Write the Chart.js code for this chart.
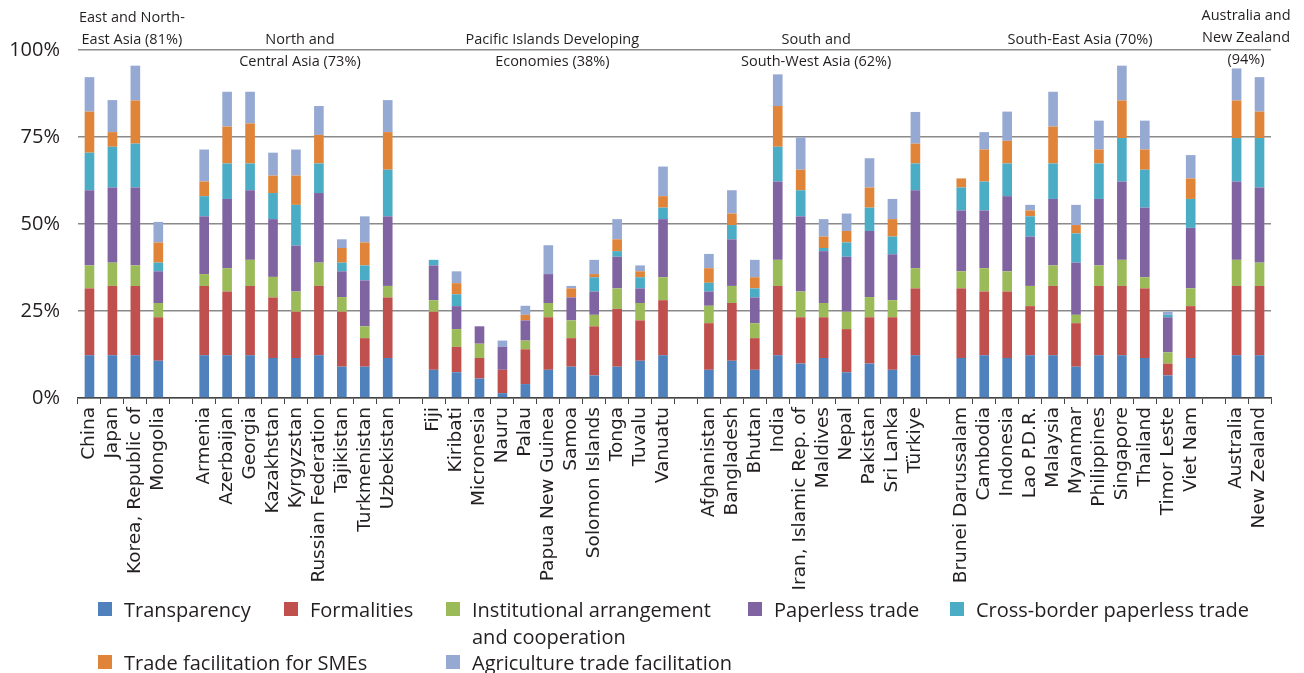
<!DOCTYPE html>
<html>
<head>
<meta charset="utf-8">
<script src="https://cdn.jsdelivr.net/npm/chart.js@4"></script>
<style>
  body { margin: 0; background: #fff; }
  #wrap { position: relative; width: 1304px; height: 673px; }
  .lg { position: absolute; font-family: "Open Sans", sans-serif; font-size: 20px; color: #231f20; line-height: 27px; white-space: nowrap; }
  .lg span.box { position: absolute; left: 0; top: 6px; width: 14px; height: 14px; }
  .lg div.txt { margin-left: 26px; }
</style>
</head>
<body>
<div id="wrap">
  <canvas id="myChart" width="1304" height="673"></canvas>
</div>
<script>
var categories = [
  'China', 'Japan', 'Korea, Republic of', 'Mongolia', '',
  'Armenia', 'Azerbaijan', 'Georgia', 'Kazakhstan', 'Kyrgyzstan', 'Russian Federation', 'Tajikistan', 'Turkmenistan', 'Uzbekistan', '',
  'Fiji', 'Kiribati', 'Micronesia', 'Nauru', 'Palau', 'Papua New Guinea', 'Samoa', 'Solomon Islands', 'Tonga', 'Tuvalu', 'Vanuatu', '',
  'Afghanistan', 'Bangladesh', 'Bhutan', 'India', 'Iran, Islamic Rep. of', 'Maldives', 'Nepal', 'Pakistan', 'Sri Lanka', 'Türkiye', '',
  'Brunei Darussalam', 'Cambodia', 'Indonesia', 'Lao P.D.R.', 'Malaysia', 'Myanmar', 'Philippines', 'Singapore', 'Thailand', 'Timor Leste', 'Viet Nam', '',
  'Australia', 'New Zealand'
];

var transparency = [
  12.3, 12.3, 12.3, 10.7, null,
  12.3, 12.3, 12.3, 11.5, 11.5, 12.3, 9.0, 9.0, 11.5, null,
  8.1, 7.4, 5.6, 1.4, 4.0, 8.1, 9.0, 6.5, 9.0, 10.7, 12.3, null,
  8.1, 10.7, 8.1, 12.3, 9.9, 11.5, 7.4, 9.9, 8.1, 12.3, null,
  11.5, 12.3, 11.5, 12.3, 12.3, 9.0, 12.3, 12.3, 11.5, 6.5, 11.5, null,
  12.3, 12.3
];
var formalities = [
  19.2, 19.9, 19.9, 12.5, null,
  19.9, 18.3, 19.9, 17.4, 13.3, 19.9, 15.8, 8.2, 17.4, null,
  16.7, 7.3, 5.9, 6.7, 10.0, 15.1, 8.2, 14.1, 16.6, 11.6, 15.8, null,
  13.4, 16.6, 9.1, 19.9, 13.3, 11.7, 12.4, 13.3, 15.1, 19.2, null,
  20.0, 18.3, 19.1, 14.1, 19.9, 12.5, 19.9, 19.9, 20.0, 3.4, 14.9, null,
  19.9, 19.9
];
var institutional = [
  6.6, 6.7, 5.9, 4.1, null,
  3.4, 6.7, 7.5, 5.9, 5.8, 6.7, 4.2, 3.4, 3.3, null,
  3.3, 5.1, 4.1, 0, 2.5, 4.1, 5.1, 3.3, 5.9, 5.0, 6.6, null,
  5.0, 4.9, 4.3, 7.5, 7.4, 4.1, 5.0, 5.8, 4.9, 5.8, null,
  4.9, 6.7, 5.8, 5.8, 5.9, 2.4, 5.9, 7.5, 3.2, 3.2, 5.1, null,
  7.5, 6.7
];
var paperless = [
  21.6, 21.6, 22.4, 9.1, null,
  16.6, 19.9, 20.0, 16.6, 13.2, 20.0, 7.4, 13.2, 20.0, null,
  10.0, 6.6, 5.0, 6.6, 5.8, 8.3, 6.6, 6.7, 9.1, 4.2, 16.7, null,
  4.1, 13.4, 7.4, 22.5, 21.6, 14.9, 15.8, 19.0, 13.2, 22.4, null,
  17.5, 16.6, 21.6, 14.2, 19.1, 15.0, 19.1, 22.5, 20.0, 10.1, 17.4, null,
  22.5, 21.6
];
var crossBorder = [
  10.8, 11.7, 12.6, 2.5, null,
  5.8, 10.2, 7.7, 7.5, 11.7, 8.5, 2.5, 4.3, 13.4, null,
  1.6, 3.4, 0, 0, 0, 0, 0, 4.1, 1.6, 3.2, 3.3, null,
  2.5, 4.1, 2.6, 10.0, 7.5, 0.9, 4.1, 6.7, 5.1, 7.7, null,
  6.6, 8.3, 9.4, 5.8, 10.2, 8.4, 10.2, 12.5, 10.9, 0.7, 8.3, null,
  12.5, 14.2
];
var smes = [
  11.8, 4.2, 12.4, 5.8, null,
  4.2, 10.6, 11.5, 5.0, 8.4, 8.2, 4.2, 6.6, 10.8, null,
  0, 3.2, 0, 0, 1.6, 0, 2.6, 0.9, 3.4, 1.7, 3.3, null,
  4.2, 3.3, 3.2, 11.7, 5.9, 3.3, 3.3, 5.8, 5.0, 5.7, null,
  2.6, 9.2, 6.5, 1.7, 10.6, 2.4, 4.0, 10.8, 5.8, 0, 5.9, null,
  10.8, 7.6
];
var agriculture = [
  9.9, 9.2, 10.0, 5.9, null,
  9.2, 10.0, 9.1, 6.6, 7.5, 8.3, 2.5, 7.5, 9.2, null,
  0, 3.4, 0, 1.8, 2.6, 8.3, 0.7, 4.1, 5.8, 1.7, 8.5, null,
  4.1, 6.7, 5.0, 9.1, 9.3, 5.0, 5.0, 8.4, 5.8, 9.1, null,
  0, 5.0, 8.4, 1.6, 10.0, 5.8, 8.3, 10.0, 8.3, 0.9, 6.7, null,
  9.2, 9.9
];

var seriesNames = ['Transparency', 'Formalities', 'Institutional arrangement\nand cooperation',
  'Paperless trade', 'Cross-border paperless trade', 'Trade facilitation for SMEs', 'Agriculture trade facilitation'];
var seriesColors = ['#4f81bd', '#c0504d', '#9bbb59', '#8064a2', '#4bacc6', '#e0843a', '#95a9d3'];
var yTicks = [0, 25, 50, 75, 100];

// group headings: lines, first and last category index
var groupNames = [
  ['East and North-', 'East Asia (81%)'],
  ['North and', 'Central Asia (73%)'],
  ['Pacific Islands Developing', 'Economies (38%)'],
  ['South and', 'South-West Asia (62%)'],
  ['South-East Asia (70%)'],
  ['Australia and', 'New Zealand', '(94%)']
];
var groupRanges = [[0, 3], [5, 13], [15, 25], [27, 36], [38, 48], [50, 51]];
var groupTopY = [18, 40, 40, 40, 40, 16];
var groupDx = [8, 4, 4, 4, 4, -2];

// legend placement (box left, row centre)
var legendPos = [[98, 609], [284, 609], [446, 609], [748, 609], [950, 609], [98, 662], [446, 662]];

var allSeries = [transparency, formalities, institutional, paperless, crossBorder, smes, agriculture];

var groupTitles = {
  id: 'groupTitles',
  afterDraw: function(chart) {
    var ctx = chart.ctx;
    var x = chart.scales.x;
    ctx.save();
    ctx.font = '14.5px "Open Sans", sans-serif';
    ctx.fillStyle = '#231f20';
    ctx.textAlign = 'center';
    ctx.textBaseline = 'middle';
    for (var i = 0; i < groupNames.length; i++) {
      var cx = (x.getPixelForValue(groupRanges[i][0]) + x.getPixelForValue(groupRanges[i][1])) / 2 + groupDx[i];
      for (var j = 0; j < groupNames[i].length; j++) {
        ctx.fillText(groupNames[i][j], cx, groupTopY[i] + j * 22);
      }
    }
    ctx.restore();
  }
};

var datasets = allSeries.map(function(d, i) {
  return {
    label: seriesNames[i],
    data: d,
    backgroundColor: seriesColors[i],
    borderWidth: 0,
    barPercentage: 0.42,
    categoryPercentage: 1
  };
});

var ctx = document.getElementById('myChart').getContext('2d');
var myChart = new Chart(ctx, {
  type: 'bar',
  data: { labels: categories, datasets: datasets },
  plugins: [groupTitles],
  options: {
    responsive: false,
    animation: false,
    layout: { padding: { left: 0, right: 33, top: 50, bottom: 0 } },
    plugins: { legend: { display: false }, tooltip: { enabled: false } },
    scales: {
      x: {
        stacked: true,
        offset: true,
        afterFit: function(scale) { scale.height = 275; },
        grid: { offset: true, drawOnChartArea: false, drawTicks: true, tickLength: 6, color: '#444' },
        border: { color: '#444', width: 1.5 },
        ticks: {
          autoSkip: false,
          maxRotation: 90,
          minRotation: 90,
          padding: 3,
          color: '#231f20',
          font: { family: '"DejaVu Sans", sans-serif', size: 18.5 }
        }
      },
      y: {
        stacked: true,
        min: 0,
        max: 100,
        afterFit: function(scale) { scale.width = 78; },
        afterBuildTicks: function(scale) {
          scale.ticks = yTicks.map(function(v) { return { value: v }; });
        },
        grid: { color: '#8a8a8a', lineWidth: 1.5, drawTicks: false },
        border: { display: false },
        ticks: {
          padding: 18,
          color: '#231f20',
          font: { family: '"Open Sans", sans-serif', size: 20 },
          callback: function(v) { return v + '%'; }
        }
      }
    }
  }
});

// html legend built from the datasets
var wrap = document.getElementById('wrap');
myChart.data.datasets.forEach(function(ds, i) {
  var item = document.createElement('div');
  item.className = 'lg';
  item.style.left = legendPos[i][0] + 'px';
  item.style.top = (legendPos[i][1] - 13) + 'px';
  var box = document.createElement('span');
  box.className = 'box';
  box.style.background = ds.backgroundColor;
  var txt = document.createElement('div');
  txt.className = 'txt';
  txt.innerHTML = ds.label.split('\n').join('<br>');
  item.appendChild(box);
  item.appendChild(txt);
  wrap.appendChild(item);
});
</script>
</body>
</html>
